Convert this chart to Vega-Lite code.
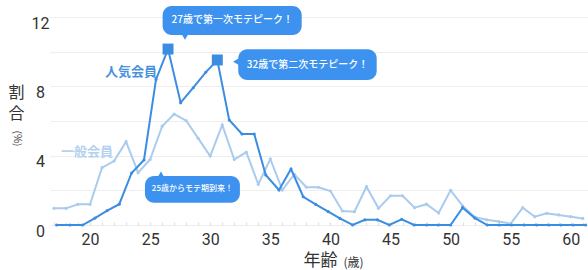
{
  "$schema": "https://vega.github.io/schema/vega-lite/v6.json",
  "width": 538,
  "height": 208,
  "autosize": "none",
  "padding": {"left": 50, "top": 17, "right": 0, "bottom": 45},
  "background": "white",
  "config": {"view": {"stroke": null}, "font": "Roboto"},
  "datasets": {
    "rates": [
      {"series": "一般会員", "age": 17, "value": 0.96},
      {"series": "一般会員", "age": 18, "value": 0.96},
      {"series": "一般会員", "age": 19, "value": 1.19},
      {"series": "一般会員", "age": 20, "value": 1.19},
      {"series": "一般会員", "age": 21, "value": 3.31},
      {"series": "一般会員", "age": 22, "value": 3.69},
      {"series": "一般会員", "age": 23, "value": 4.81},
      {"series": "一般会員", "age": 24, "value": 3.02},
      {"series": "一般会員", "age": 25, "value": 3.78},
      {"series": "一般会員", "age": 26, "value": 5.7},
      {"series": "一般会員", "age": 27, "value": 6.4},
      {"series": "一般会員", "age": 28, "value": 6.02},
      {"series": "一般会員", "age": 29, "value": 5.0},
      {"series": "一般会員", "age": 30, "value": 3.98},
      {"series": "一般会員", "age": 31, "value": 5.77},
      {"series": "一般会員", "age": 32, "value": 3.78},
      {"series": "一般会員", "age": 33, "value": 4.2},
      {"series": "一般会員", "age": 34, "value": 2.35},
      {"series": "一般会員", "age": 35, "value": 3.81},
      {"series": "一般会員", "age": 36, "value": 2.02},
      {"series": "一般会員", "age": 37, "value": 2.93},
      {"series": "一般会員", "age": 38, "value": 2.18},
      {"series": "一般会員", "age": 39, "value": 2.18},
      {"series": "一般会員", "age": 40, "value": 1.96},
      {"series": "一般会員", "age": 41, "value": 0.81},
      {"series": "一般会員", "age": 42, "value": 0.77},
      {"series": "一般会員", "age": 43, "value": 2.21},
      {"series": "一般会員", "age": 44, "value": 0.96},
      {"series": "一般会員", "age": 45, "value": 1.69},
      {"series": "一般会員", "age": 46, "value": 1.69},
      {"series": "一般会員", "age": 47, "value": 1.0},
      {"series": "一般会員", "age": 48, "value": 1.2},
      {"series": "一般会員", "age": 49, "value": 0.69},
      {"series": "一般会員", "age": 50, "value": 2.0},
      {"series": "一般会員", "age": 51, "value": 1.1},
      {"series": "一般会員", "age": 52, "value": 0.46},
      {"series": "一般会員", "age": 53, "value": 0.3},
      {"series": "一般会員", "age": 54, "value": 0.2},
      {"series": "一般会員", "age": 55, "value": 0.08},
      {"series": "一般会員", "age": 56, "value": 1.0},
      {"series": "一般会員", "age": 57, "value": 0.48},
      {"series": "一般会員", "age": 58, "value": 0.67},
      {"series": "一般会員", "age": 59, "value": 0.58},
      {"series": "一般会員", "age": 60, "value": 0.48},
      {"series": "一般会員", "age": 61, "value": 0.38},
      {"series": "人気会員", "age": 17.22, "value": 0},
      {"series": "人気会員", "age": 18.33, "value": 0},
      {"series": "人気会員", "age": 19.39, "value": 0},
      {"series": "人気会員", "age": 20.41, "value": 0.4},
      {"series": "人気会員", "age": 21.43, "value": 0.83},
      {"series": "人気会員", "age": 22.43, "value": 1.2},
      {"series": "人気会員", "age": 23.46, "value": 3.0},
      {"series": "人気会員", "age": 24.49, "value": 3.75},
      {"series": "人気会員", "age": 25.49, "value": 8.4},
      {"series": "人気会員", "age": 26.49, "value": 10.15},
      {"series": "人気会員", "age": 27.54, "value": 7.06},
      {"series": "人気会員", "age": 28.59, "value": 7.92},
      {"series": "人気会員", "age": 29.62, "value": 8.81},
      {"series": "人気会員", "age": 30.59, "value": 9.52},
      {"series": "人気会員", "age": 31.58, "value": 6.06},
      {"series": "人気会員", "age": 32.64, "value": 5.25},
      {"series": "人気会員", "age": 33.66, "value": 5.25},
      {"series": "人気会員", "age": 34.62, "value": 2.89},
      {"series": "人気会員", "age": 35.72, "value": 2.02},
      {"series": "人気会員", "age": 36.72, "value": 3.23},
      {"series": "人気会員", "age": 37.74, "value": 1.63},
      {"series": "人気会員", "age": 38.77, "value": 1.19},
      {"series": "人気会員", "age": 39.82, "value": 0.77},
      {"series": "人気会員", "age": 40.79, "value": 0.38},
      {"series": "人気会員", "age": 41.85, "value": 0},
      {"series": "人気会員", "age": 42.87, "value": 0.3},
      {"series": "人気会員", "age": 43.9, "value": 0.3},
      {"series": "人気会員", "age": 44.9, "value": 0},
      {"series": "人気会員", "age": 45.93, "value": 0.32},
      {"series": "人気会員", "age": 46.97, "value": 0},
      {"series": "人気会員", "age": 48.0, "value": 0},
      {"series": "人気会員", "age": 48.97, "value": 0},
      {"series": "人気会員", "age": 50.0, "value": 0},
      {"series": "人気会員", "age": 51.0, "value": 1.0},
      {"series": "人気会員", "age": 52.02, "value": 0.4},
      {"series": "人気会員", "age": 53.05, "value": 0},
      {"series": "人気会員", "age": 54.05, "value": 0},
      {"series": "人気会員", "age": 55.08, "value": 0},
      {"series": "人気会員", "age": 56.13, "value": 0},
      {"series": "人気会員", "age": 57.16, "value": 0},
      {"series": "人気会員", "age": 58.18, "value": 0},
      {"series": "人気会員", "age": 59.18, "value": 0},
      {"series": "人気会員", "age": 60.2, "value": 0},
      {"series": "人気会員", "age": 61.23, "value": 0}
    ],
    "bubbles": [
      {"id": "a", "text": "27歳で第一次モテピーク！", "x1": 26.04, "x2": 37.61, "y1": 12.63, "y2": 10.96, "tx": 31.83, "ty": 11.8, "px": 27.9, "py": 10.85},
      {"id": "b", "text": "32歳で第二次モテピーク！", "x1": 32.33, "x2": 43.85, "y1": 10.14, "y2": 8.37, "tx": 38.09, "ty": 9.25, "px": 32.14, "py": 9.42},
      {"id": "c", "text": "25歳からモテ期到来！", "x1": 24.57, "x2": 32.47, "y1": 2.83, "y2": 1.29, "tx": 28.52, "ty": 2.06, "px": 25.9, "py": 2.92}
    ],
    "notes": [
      {"series": "人気会員", "age": 23.4, "value": 8.8},
      {"series": "一般会員", "age": 19.75, "value": 4.21}
    ]
  },
  "layer": [
    {
      "data": {"name": "rates"},
      "transform": [{"filter": "datum.series == '一般会員'"}],
      "mark": {"type": "line", "color": "#a9cbee", "strokeWidth": 2, "point": {"filled": true, "size": 10, "color": "#a9cbee"}},
      "encoding": {
        "x": {
          "field": "age", "type": "quantitative",
          "scale": {"domain": [16.67, 61.43], "nice": false, "zero": false},
          "axis": {
            "values": [17,18,19,20,21,22,23,24,25,26,27,28,29,30,31,32,33,34,35,36,37,38,39,40,41,42,43,44,45,46,47,48,49,50,51,52,53,54,55,56,57,58,59,60,61],
            "labelExpr": "datum.value % 5 == 0 ? datum.label : ''",
            "grid": false, "domain": false,
            "tickSize": -3, "tickColor": "#dddddd",
            "labelFontSize": 16, "labelColor": "#333333", "labelPadding": 9,
            "title": "年齢", "titleFont": "Noto Sans CJK JP", "titleFontSize": 17, "titleFontWeight": "normal", "titleColor": "#333333",
            "titleX": 270, "titleY": 27, "titleBaseline": "top", "titleAlign": "center"
          }
        },
        "y": {
          "field": "value", "type": "quantitative",
          "scale": {"domain": [0, 12], "nice": false},
          "axis": {
            "values": [0, 2, 4, 6, 8, 10, 12],
            "labelExpr": "datum.value % 4 == 0 ? datum.label : ''",
            "grid": true, "gridColor": "#eeeeee", "domain": false, "ticks": false,
            "labelAlign": "center", "labelPadding": 10, "labelOffset": 6,
            "labelFontSize": 16, "labelColor": "#333333",
            "title": ["割", "合"], "titleAngle": 0, "titleFont": "Noto Sans CJK JP", "titleFontSize": 16, "titleFontWeight": "normal", "titleColor": "#333333",
            "titleLineHeight": 21, "titleX": -34, "titleY": 67, "titleBaseline": "top", "titleAlign": "center"
          }
        }
      }
    },
    {
      "data": {"name": "rates"},
      "transform": [{"filter": "datum.series == '人気会員'"}],
      "mark": {"type": "line", "color": "#3b8de2", "strokeWidth": 2, "point": {"filled": true, "size": 10, "color": "#3b8de2"}},
      "encoding": {
        "x": {
          "field": "age", "type": "quantitative",
          "axis": {
            "orient": "bottom", "labels": false, "ticks": false, "domain": false, "grid": false,
            "title": "(歳)", "titleFont": "Noto Sans CJK JP", "titleFontSize": 12, "titleFontWeight": "normal", "titleColor": "#333333",
            "titleX": 303, "titleY": 32, "titleBaseline": "top", "titleAlign": "center"
          }
        },
        "y": {
          "field": "value", "type": "quantitative",
          "axis": {
            "orient": "left", "labels": false, "ticks": false, "domain": false, "grid": false,
            "title": "(%)", "titleAngle": 90, "titleFont": "Noto Sans CJK JP", "titleFontSize": 10, "titleFontWeight": "normal", "titleColor": "#333333",
            "titleX": -34, "titleY": 121, "titleBaseline": "middle", "titleAlign": "center"
          }
        }
      }
    },
    {
      "data": {"name": "rates"},
      "transform": [{"filter": "datum.series == '人気会員' && datum.value > 9"}],
      "mark": {"type": "point", "shape": "square", "filled": true, "opacity": 1, "size": 120, "color": "#3b8de2"},
      "encoding": {
        "x": {"field": "age", "type": "quantitative", "axis": null},
        "y": {"field": "value", "type": "quantitative", "axis": null}
      }
    },
    {
      "data": {"name": "notes"},
      "mark": {"type": "text", "font": "Noto Sans CJK JP", "fontSize": 13, "fontWeight": "bold"},
      "encoding": {
        "x": {"field": "age", "type": "quantitative", "axis": null},
        "y": {"field": "value", "type": "quantitative", "axis": null},
        "text": {"field": "series"},
        "color": {"field": "series", "type": "nominal", "scale": {"domain": ["人気会員", "一般会員"], "range": ["#4a92e0", "#b3d2f0"]}, "legend": null}
      }
    },
    {
      "data": {"name": "bubbles"},
      "mark": {"type": "rect", "cornerRadius": 9, "color": "#3d92f0"},
      "encoding": {
        "x": {"field": "x1", "type": "quantitative", "axis": null},
        "x2": {"field": "x2"},
        "y": {"field": "y1", "type": "quantitative", "axis": null},
        "y2": {"field": "y2"}
      }
    },
    {
      "data": {"name": "bubbles"},
      "transform": [{"filter": "datum.id == 'a'"}],
      "mark": {"type": "point", "shape": "triangle-down", "filled": true, "opacity": 1, "size": 45, "color": "#3d92f0"},
      "encoding": {
        "x": {"field": "px", "type": "quantitative", "axis": null},
        "y": {"field": "py", "type": "quantitative", "axis": null}
      }
    },
    {
      "data": {"name": "bubbles"},
      "transform": [{"filter": "datum.id == 'b'"}],
      "mark": {"type": "point", "shape": "triangle-left", "filled": true, "opacity": 1, "size": 45, "color": "#3d92f0"},
      "encoding": {
        "x": {"field": "px", "type": "quantitative", "axis": null},
        "y": {"field": "py", "type": "quantitative", "axis": null}
      }
    },
    {
      "data": {"name": "bubbles"},
      "transform": [{"filter": "datum.id == 'c'"}],
      "mark": {"type": "point", "shape": "triangle-up", "filled": true, "opacity": 1, "size": 45, "color": "#3d92f0"},
      "encoding": {
        "x": {"field": "px", "type": "quantitative", "axis": null},
        "y": {"field": "py", "type": "quantitative", "axis": null}
      }
    },
    {
      "data": {"name": "bubbles"},
      "mark": {"type": "text", "color": "white", "font": "Noto Sans CJK JP", "fontSize": 10, "fontWeight": 500},
      "encoding": {
        "x": {"field": "tx", "type": "quantitative", "axis": null},
        "y": {"field": "ty", "type": "quantitative", "axis": null},
        "text": {"field": "text"},
        "size": {"condition": {"test": "datum.id == 'c'", "value": 8}, "value": 10}
      }
    }
  ],
  "resolve": {"axis": {"x": "independent", "y": "independent"}}
}
